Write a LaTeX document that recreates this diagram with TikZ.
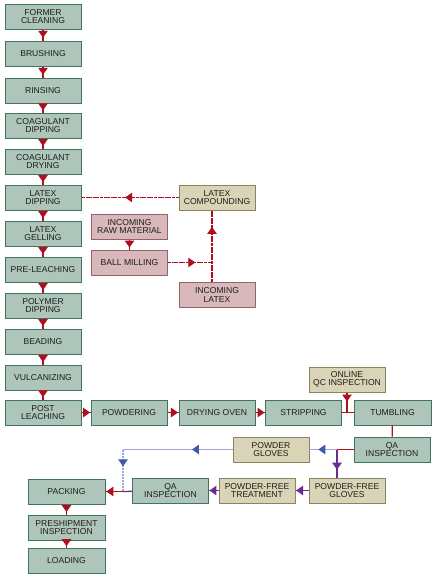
\documentclass[tikz,border=0pt]{standalone}
\usepackage{fontspec}
\setmainfont{Liberation Sans}
\usepackage{xcolor}
\usetikzlibrary{
  arrows.meta,
  decorations.markings
}
\definecolor{glgreen}    {HTML}{AEC6BA}
\definecolor{glgreenline}{HTML}{3F7363}
\definecolor{gltan}      {HTML}{D9D4B5}
\definecolor{gltanline}  {HTML}{8A8462}
\definecolor{glpink}     {HTML}{D9B8BB}
\definecolor{glpinkline} {HTML}{93626A}
\definecolor{glred}      {HTML}{B00E1E}
\definecolor{glblue}     {HTML}{3E5AA6}
\definecolor{glbluelight}{HTML}{9AA9D8}
\definecolor{glpurple}   {HTML}{6B2C91}
\definecolor{gltext}     {HTML}{1E1E1E}

\begin{document}
\begin{tikzpicture}[
  x=1pt, y=-1pt,
  every node/.style={font=\fontsize{8.6}{8.6}\selectfont, text=gltext, align=center},
  stage/.style={rectangle, minimum width=76pt, minimum height=25pt, inner sep=0pt,
                draw=glgreenline, fill=glgreen, line width=1pt},
  sortbox/.style={stage, draw=gltanline, fill=gltan},
  feedbox/.style={stage, draw=glpinkline, fill=glpink},
  link/.style={draw=glred, line width=1.3pt},
  arr/.style={link, postaction={decorate}, decoration={markings,
              mark=at position #1 with {\arrow[glred]{Triangle[length=7pt,width=9.5pt]}}}},
  arr/.default=0.75,
  dotarr/.style={arr=#1, dash pattern=on 3pt off 0.6pt},
  barr/.style={draw=glbluelight, line width=1.3pt, postaction={decorate}, decoration={markings,
              mark=at position #1 with {\arrow[glblue]{Triangle[length=7pt,width=9.5pt]}}}},
  parr/.style={draw=glpurple, line width=1.3pt, postaction={decorate}, decoration={markings,
              mark=at position #1 with {\arrow[glpurple]{Triangle[length=7pt,width=9.5pt]}}}},
  plink/.style={draw=glpurple, line width=1.3pt},
]
\useasboundingbox (0,0) rectangle (434,581);

% -- Main line: forming column ------------------
\node[stage] (clean)  at (43, 16.5)  {FORMER\\CLEANING};
\node[stage] (brush)  at (43, 53.5)  {BRUSHING};
\node[stage] (rinse)  at (43, 90.5)  {RINSING};
\node[stage] (cdip)   at (43,125.5)  {COAGULANT\\DIPPING};
\node[stage] (cdry)   at (43,161.5)  {COAGULANT\\DRYING};
\node[stage] (ldip)   at (43,197.5)  {LATEX\\DIPPING};
\node[stage] (lgel)   at (43,233.5)  {LATEX\\GELLING};
\node[stage] (pleach) at (43,269.5)  {PRE-LEACHING};
\node[stage] (pdip)   at (43,305.5)  {POLYMER\\DIPPING};
\node[stage] (bead)   at (43,341.5)  {BEADING};
\node[stage] (vulc)   at (43,377.5)  {VULCANIZING};
\node[stage] (post)   at (43,412.5)  {POST\\LEACHING};

% -- Latex preparation --------------------------
\node[sortbox] (comp)   at (217,197.5) {LATEX\\COMPOUNDING};
\node[feedbox] (raw)    at (129.5,226.5) {INCOMING\\RAW MATERIAL};
\node[feedbox] (mill)   at (129.5,262.5) {BALL MILLING};
\node[feedbox] (inlat)  at (217,295)   {INCOMING\\LATEX};
\coordinate (jmill) at (212,262.5);

% -- Finishing row ------------------------------
\node[stage] (powd)   at (129,412.5)   {POWDERING};
\node[stage] (oven)   at (217,412.5)   {DRYING OVEN};
\node[stage] (strip)  at (303.5,412.5) {STRIPPING};
\node[stage, minimum width=77pt] (tumb) at (392.5,412.5) {TUMBLING};
\node[sortbox] (qc)   at (347,379.5)   {ONLINE\\QC INSPECTION};
\coordinate (jqc) at (347,412.5);

% -- Sorting and packing ------------------------
\node[stage] (qaone)  at (392,449.5)   {QA\\INSPECTION};
\node[sortbox] (pglv) at (271,449.5)   {POWDER\\GLOVES};
\node[sortbox] (pfglv) at (347,490.5)  {POWDER-FREE\\GLOVES};
\node[sortbox] (pftr) at (257,490.5)   {POWDER-FREE\\TREATMENT};
\node[stage] (qatwo)  at (170.5,490.5) {QA\\INSPECTION};
\node[stage, minimum width=77pt] (packing) at (66.5,491.5) {PACKING};
\node[stage, minimum width=77pt] (ship)    at (66.5,527.5) {PRESHIPMENT\\INSPECTION};
\node[stage, minimum width=77pt] (load)    at (66.5,560.5) {LOADING};
\coordinate (jqa)   at (337,449.5);
\coordinate (bend)  at (123,449.5);
\coordinate (jpack) at (123,491.5);

% -- Arrows: forming column ---------------------
\draw[arr] (clean)  -- (brush);
\draw[arr] (brush)  -- (rinse);
\draw[arr] (rinse)  -- (cdip);
\draw[arr] (cdip)   -- (cdry);
\draw[arr] (cdry)   -- (ldip);
\draw[arr] (ldip)   -- (lgel);
\draw[arr] (lgel)   -- (pleach);
\draw[arr] (pleach) -- (pdip);
\draw[arr] (pdip)   -- (bead);
\draw[arr] (bead)   -- (vulc);
\draw[arr] (vulc)   -- (post);

% -- Arrows: latex feed -------------------------
\draw[dotarr=0.55] (comp) -- (ldip);
\draw[arr=0.8] (raw) -- (mill);
\draw[dotarr=0.62] (mill) -- (jmill);
\draw[dotarr=0.77] (inlat.north -| jmill) -- (comp.south -| jmill);

% -- Arrows: finishing row ----------------------
\draw[arr=0.95] (post)  -- (powd);
\draw[arr=0.95] (powd)  -- (oven);
\draw[arr=0.95] (oven)  -- (strip);
\draw[link] (strip) -- (tumb);
\draw[arr=0.45] (qc) -- (jqc);
\draw[link] (tumb) -- (qaone);
\draw[link] (qaone) -- (jqa);

% -- Arrows: sorting ----------------------------
\draw[barr=0.68] (jqa) -- (pglv);
\draw[barr=0.37] (pglv) -- (bend);
\draw[barr=0.4, dash pattern=on 2pt off 1pt] (bend) -- (jpack);
\draw[parr=0.72] (jqa) -- (jqa |- pfglv.north);
\draw[parr=0.95] (pfglv) -- (pftr);
\draw[parr=0.95] (pftr) -- (qatwo);
\draw[plink] (qatwo) -- (jpack);
\draw[arr=0.95] (jpack) -- (packing);
\draw[arr=0.75] (packing) -- (ship);
\draw[arr=0.8] (ship) -- (load);

\end{tikzpicture}
\end{document}
